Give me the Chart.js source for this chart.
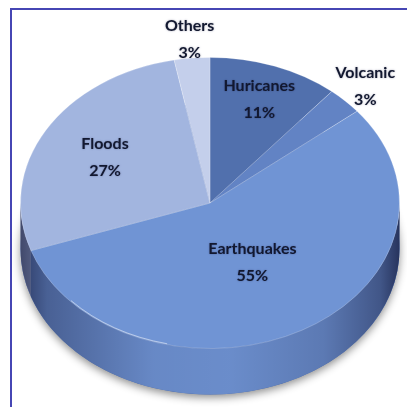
<!DOCTYPE html>
<html>
<head>
<meta charset="utf-8">
<script src="https://cdn.jsdelivr.net/npm/chart.js@4/dist/chart.umd.min.js"></script>
<style>
    body { margin: 0; background: #fff; overflow: hidden; }
    #wrap { position: relative; width: 407px; height: 407px; overflow: hidden; }
    #frame { position: absolute; left: 10px; top: 8px; width: 430px; height: 430px; border: 2px solid #4646b4; box-sizing: border-box; pointer-events: none; }
    canvas { position: absolute; left: 0; top: 0; }
</style>
</head>
<body>
<div id="wrap">
    <canvas id="chart" width="407" height="407"></canvas>
    <div id="frame"></div>
</div>
<script>
// ---------------- DATA ----------------
const categories = ["Huricanes", "Volcanic", "Earthquakes", "Floods", "Others"];
const percents = [11, 3, 55, 27, 3];
const percentLabels = ["11%", "3%", "55%", "27%", "3%"];
const sliceColors = ["#5170ad", "#6283c4", "#7094d4", "#a2b5df", "#c4cfeb"];

const TILT = 0.768;   // height / width of the top face
const DEPTH = 46;     // thickness of the disc

// ---------------- 3D LOOK ----------------
const pie3d = {
    id: "pie3d",
    beforeDatasetsDraw(chart) {
        const ctx = chart.ctx;
        const arcs = chart.getDatasetMeta(0).data;
        if (!arcs.length) return;
        const { x: cx, y: cy, outerRadius: r } = arcs[0];
        const ry = r * TILT;

        // soft shadow under the disc
        ctx.save();
        ctx.shadowColor = "rgba(0,0,0,0.45)";
        ctx.shadowBlur = 8;
        ctx.shadowOffsetY = 3;
        ctx.fillStyle = "#4a67a6";
        ctx.beginPath();
        ctx.ellipse(cx, cy + DEPTH, r, ry, 0, 0, Math.PI * 2);
        ctx.fill();
        ctx.restore();

        // front walls, one piece for each slice that reaches the front
        const shade = ctx.createLinearGradient(cx - r, 0, cx + r, 0);
        shade.addColorStop(0, "rgba(0,0,30,0.6)");
        shade.addColorStop(0.07, "rgba(0,0,30,0.35)");
        shade.addColorStop(0.35, "rgba(0,0,30,0.08)");
        shade.addColorStop(0.55, "rgba(0,0,30,0.05)");
        shade.addColorStop(0.8, "rgba(0,0,30,0.18)");
        shade.addColorStop(0.95, "rgba(0,0,30,0.42)");
        shade.addColorStop(1, "rgba(0,0,30,0.65)");

        arcs.forEach((arc, i) => {
            const TAU = Math.PI * 2;
            for (let k = -1; k <= 1; k++) {
                const a1 = Math.max(arc.startAngle + k * TAU, 0);
                const a2 = Math.min(arc.endAngle + k * TAU, Math.PI);
                if (a2 <= a1) continue;
                ctx.beginPath();
                ctx.ellipse(cx, cy, r, ry, 0, a1, a2);
                ctx.lineTo(cx + r * Math.cos(a2), cy + DEPTH + ry * Math.sin(a2));
                ctx.ellipse(cx, cy + DEPTH, r, ry, 0, a2, a1, true);
                ctx.closePath();
                ctx.fillStyle = sliceColors[i];
                ctx.fill();
                ctx.fillStyle = shade;
                ctx.fill();
            }
        });

        // squash the round pie into the top face
        ctx.save();
        ctx.translate(cx, cy);
        ctx.scale(1, TILT);
        ctx.translate(-cx, -cy);
    },
    afterDatasetsDraw(chart, args, opts) {
        const ctx = chart.ctx;
        const arcs = chart.getDatasetMeta(0).data;
        if (!arcs.length) return;
        ctx.restore();
        const { x: cx, y: cy, outerRadius: r } = arcs[0];
        const ry = r * TILT;

        // thin light rim on the front edge
        ctx.save();
        ctx.strokeStyle = "rgba(255,255,255,0.5)";
        ctx.lineWidth = 1;
        ctx.beginPath();
        ctx.ellipse(cx, cy, r - 1, ry - 1, 0, 1.8, 2.4);
        ctx.stroke();
        ctx.restore();

        // labels
        ctx.save();
        ctx.font = "bold 16px Lato, 'Open Sans', sans-serif";
        ctx.textAlign = "center";
        ctx.textBaseline = "middle";
        ctx.fillStyle = "#121830";
        ctx.shadowColor = "rgba(0,0,40,0.35)";
        ctx.shadowBlur = 2;
        arcs.forEach((arc, i) => {
            const mid = (arc.startAngle + arc.endAngle) / 2;
            const f = opts.reach[i];
            const x = cx + f * r * Math.cos(mid);
            const y = cy + f * ry * Math.sin(mid);
            ctx.fillText(categories[i], x, y - 13);
            ctx.fillText(percentLabels[i], x, y + 14);
        });
        ctx.restore();
    }
};

// ---------------- CHART ----------------
const chart = new Chart(document.getElementById("chart").getContext("2d"), {
    type: "pie",
    data: {
        labels: categories,
        datasets: [{
            data: percents,
            backgroundColor: sliceColors,
            borderWidth: 1,
            borderColor: "rgba(255,255,255,0.25)",
            hoverOffset: 0
        }]
    },
    options: {
        responsive: false,
        animation: false,
        events: [],
        layout: { padding: { left: 20, right: 7, top: 13, bottom: 14 } },
        plugins: {
            legend: { display: false },
            tooltip: { enabled: false },
            pie3d: { reach: [0.76, 1.15, 0.46, 0.64, 1.13] }
        }
    },
    plugins: [pie3d]
});
</script>
</body>
</html>
